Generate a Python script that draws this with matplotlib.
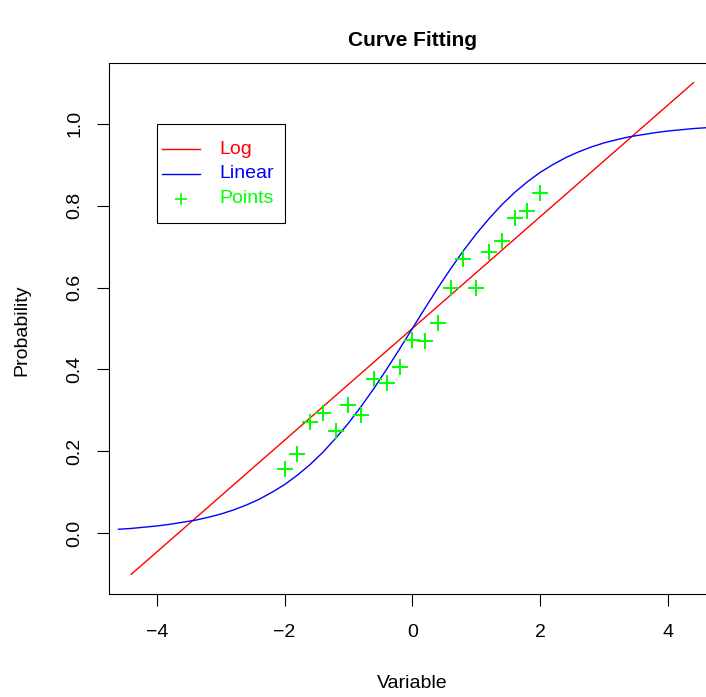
import matplotlib
matplotlib.use("Agg")
import matplotlib.pyplot as plt
from matplotlib.patches import Rectangle
from matplotlib.lines import Line2D

# canvas size in pixels
W, H = 706, 697

# fitted curves and sample points
log_x = [-4.4, 4.4]
log_y = [-0.1, 1.1]

lin_x = [-4.6, -4.4, -4.2, -4.0, -3.8, -3.6, -3.4, -3.2, -3.0, -2.8, -2.6, -2.4,
         -2.2, -2.0, -1.8, -1.6, -1.4, -1.2, -1.0, -0.8, -0.6, -0.4, -0.2, 0.0,
         0.2, 0.4, 0.6, 0.8, 1.0, 1.2, 1.4, 1.6, 1.8, 2.0, 2.2, 2.4,
         2.6, 2.8, 3.0, 3.2, 3.4, 3.6, 3.8, 4.0, 4.2, 4.4, 4.6, 4.8]
lin_y = [0.010, 0.012, 0.015, 0.018, 0.022, 0.027, 0.032, 0.039, 0.047, 0.057, 0.069, 0.083,
         0.100, 0.119, 0.142, 0.168, 0.198, 0.232, 0.269, 0.310, 0.354, 0.401, 0.450, 0.500,
         0.550, 0.599, 0.646, 0.690, 0.731, 0.768, 0.802, 0.832, 0.858, 0.881, 0.900, 0.917,
         0.931, 0.943, 0.953, 0.961, 0.968, 0.973, 0.978, 0.982, 0.985, 0.988, 0.990, 0.992]

pts_x = [-2.0, -1.8, -1.6, -1.4, -1.2, -1.0, -0.8, -0.6, -0.4, -0.2, 0.0,
         0.2, 0.4, 0.6, 0.8, 1.0, 1.2, 1.4, 1.6, 1.8, 2.0]
pts_y = [0.156, 0.194, 0.272, 0.293, 0.250, 0.313, 0.290, 0.376, 0.367, 0.405, 0.473,
         0.469, 0.514, 0.599, 0.669, 0.598, 0.686, 0.713, 0.770, 0.786, 0.831]

x_ticks = [-4, -2, 0, 2, 4]
y_ticks = [0.0, 0.2, 0.4, 0.6, 0.8, 1.0]
y_ticklabels = ["0.0", "0.2", "0.4", "0.6", "0.8", "1.0"]

legend_labels = ["Log", "Linear", "Points"]
RED, BLUE, GREEN = "#FF0000", "#0000FF", "#00FF00"

plt.rcParams["font.family"] = ["Liberation Sans", "DejaVu Sans"]
FS = 14


def fx(px):
    return px / W


def fy(py):
    return 1 - py / H


fig = plt.figure(figsize=(W / 100, H / 100), dpi=100)
fig.set_facecolor("white")

# plot region (right edge runs slightly past the canvas)
left, right, top, bottom = 108.7, 716.0, 63.0, 594.0
ax = fig.add_axes([fx(left), fy(bottom), (right - left) / W, (bottom - top) / H])
ax.set_xlim(-4.752, 4.752)
ax.set_ylim(-0.148, 1.148)

ax.plot(log_x, log_y, color=RED, lw=1.0)
ax.plot(lin_x, lin_y, color=BLUE, lw=1.0)
ax.plot(pts_x, pts_y, linestyle="none", marker="+", color=GREEN,
        markersize=11, markeredgewidth=1.4)

ax.set_xticks(x_ticks)
ax.set_yticks(y_ticks)
ax.set_yticklabels(y_ticklabels, rotation=90, va="center")
ax.tick_params(axis="both", direction="out", length=8.8, width=0.8,
               labelsize=FS, color="black")
ax.tick_params(axis="x", pad=12.5)
ax.tick_params(axis="y", pad=9.5)
for s in ax.spines.values():
    s.set_linewidth(0.8)
    s.set_color("black")

# titles
fig.text(fx(412), fy(40), "Curve Fitting", ha="center", va="center",
         fontsize=15, fontweight="bold")
fig.text(fx(412), fy(683), "Variable", ha="center", va="center", fontsize=FS)
fig.text(fx(22), fy(330), "Probability", ha="center", va="center",
         fontsize=FS, rotation=90)

# legend box
box_l, box_t, box_r, box_b = 157, 124, 285, 223
fig.patches.append(Rectangle((fx(box_l), fy(box_b)), (box_r - box_l) / W,
                             (box_b - box_t) / H, transform=fig.transFigure,
                             facecolor="white", edgecolor="black", lw=0.8))
rows = [149, 173.5, 198.5]
colors = [RED, BLUE, GREEN]
for i, (lab, c, yy) in enumerate(zip(legend_labels, colors, rows)):
    if i < 2:
        fig.lines.append(Line2D([fx(162), fx(200)], [fy(yy), fy(yy)],
                                transform=fig.transFigure, color=c, lw=1.0))
    else:
        fig.lines.append(Line2D([fx(181)], [fy(yy)], transform=fig.transFigure,
                                marker="+", color=c, markersize=9,
                                markeredgewidth=1.2, linestyle="none"))
    fig.text(fx(219), fy(yy), lab, color=c, ha="left", va="center", fontsize=FS)

fig.savefig("out.png", dpi=100, facecolor="white")
